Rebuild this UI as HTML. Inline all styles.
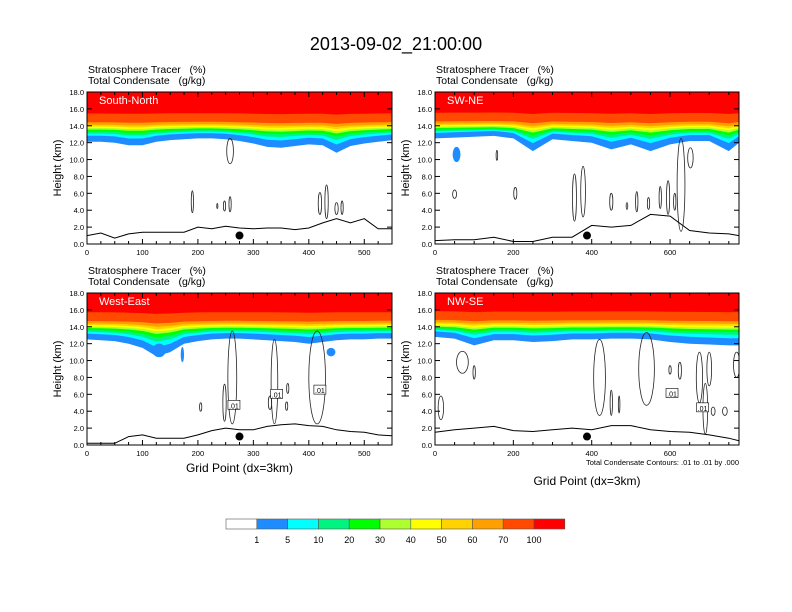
<!DOCTYPE html>
<html><head><meta charset="utf-8">
<style>
body{margin:0;background:#fff;}
svg{display:block;font-family:"Liberation Sans",sans-serif;}
</style></head>
<body>
<svg id="chart" width="792" height="612" viewBox="0 0 792 612" xmlns="http://www.w3.org/2000/svg">
<text x="396" y="50" font-size="18" text-anchor="middle">2013-09-02_21:00:00</text>
<g id="panels"></g>
<g id="cbar"></g>
</svg>
<script>
// ---- data ----
const levels = [1,5,10,20,30,40,50,60,70,100];
const levelOffsets = [0,0.75,1.05,1.3,1.55,1.75,1.95,2.15,2.45,3.5];
const levelDip = [1,0.8,0.6,0.45,0.35,0.3,0.25,0.2,0.15,0.1];
const levelColors = ["#ffffff","#1e8cff","#00ffff","#00f580","#00ff00","#adff2f","#ffff00","#ffd200","#ffa000","#ff4a00","#ff0000"];
const yTicks = [0,2,4,6,8,10,12,14,16,18];
const yTickLabels = ["0.0","2.0","4.0","6.0","8.0","10.0","12.0","14.0","16.0","18.0"];

const snTropo = [12.1,12.1,12.0,11.7,11.7,12.1,12.3,12.4,12.5,12.5,12.4,12.2,11.9,11.5,11.4,11.6,11.8,11.7,10.8,11.6,11.9,12.1,12.3];
const snTerrain = [1.0,1.3,0.7,1.2,1.4,1.4,1.4,1.4,2.0,1.8,2.1,1.9,1.8,1.9,1.9,1.7,1.9,2.5,3.0,2.5,3.0,1.8,1.8];
const snCloud = [[258,11,6,1.5],[190,5,2,1.3],[235,4.5,1,0.3],[248,4.5,2,0.6],[258,4.7,2,0.9],[420,4.8,3,1.3],[432,5,3,2],[450,4.2,3,0.7],[460,4.3,2,0.8]];

const swTropo = [12.5,12.6,12.7,12.8,12.5,11.0,12.4,12.2,12.0,11.2,11.8,11.0,11.8,12.2,12.2,11.0,12.0];
const swTerrain = [0.4,0.5,0.5,0.8,0.3,0.3,0.8,0.8,2.2,2.0,2.2,3.5,3.3,1.6,1.3,1.2,1.0];
const swCloud = [[158,10.5,2,0.6],[50,5.9,5,0.5],[205,6,4,0.7],[356,5.5,5,2.8],[378,6.2,6,3],[450,5,4,1],[490,4.5,2,0.4],[515,5,3,1.2],[545,4.8,3,0.7],[575,5.5,3,1.3],[595,5.5,4,2],[612,5,3,1],[628,7,10,5.5],[652,10.2,7,1.2]];
const swBlobs = [[55,10.6,10,0.9]];

const weTropo = [12.5,12.4,12.3,12.0,11.5,10.5,11.0,12.0,12.3,12.5,12.6,12.6,12.5,12.4,12.3,12.2,12.0,12.2,12.4,12.5,12.5,12.6,12.6];
const weTerrain = [0.2,0.2,0.2,1.0,1.2,0.8,0.8,0.8,1.2,1.7,2.0,1.8,1.8,2.2,2.4,2.5,2.3,2.2,1.8,1.6,1.5,1.2,1.1];
const weCloud = [[262,8,8,5.5],[338,7.5,6,5],[415,8,15,5.5],[248,5,3,2.2],[205,4.5,2,0.5],[330,5,3,0.8],[362,6.7,2,0.6],[360,4.6,2,0.5]];
const weBlobs = [[130,11.2,12,0.8],[172,10.7,3,0.9],[440,11,8,0.5]];
const weLabels = [[265,4.7],[342,6],[420,6.5]];

const nwTropo = [12.8,12.6,11.8,12.4,12.4,12.2,12.3,12.5,12.5,12.6,12.6,12.5,12.2,12.0,11.9,11.8,11.8];
const nwTerrain = [1.5,1.8,2.0,2.2,1.7,1.6,1.8,2.0,1.8,2.3,2.3,1.8,1.6,1.5,1.2,0.8,0.5];
const nwCloud = [[420,8,15,4.5],[540,9,20,4.3],[70,9.8,15,1.3],[100,8.6,3,0.8],[15,4.4,7,1.4],[450,5,3,1.5],[470,4.8,2,1],[675,8,8,3],[690,4.3,6,3],[700,9,6,2],[600,8.9,3,0.5],[625,8.8,4,1],[710,4,5,0.5],[740,4,6,0.5],[770,9.5,8,1.5]];
const nwLabels = [[605,6.1],[683,4.4]];

const leftXTicks = [0,100,200,300,400,500];
const rightXTicks = [0,200,400,600];

const panels = [
 {name:"south-north",label:"South-North",x0:87,y0:92,w:305,h:152,xmax:550,step:25,tropo:snTropo,terrain:snTerrain,cloud:snCloud,blobs:[],labels:[],dot:[275,1.0],ticks:leftXTicks,minor:25,xl:false},
 {name:"sw-ne",label:"SW-NE",x0:435,y0:92,w:304,h:152,xmax:776,step:50,tropo:swTropo,terrain:swTerrain,cloud:swCloud,blobs:swBlobs,labels:[],dot:[388,1.0],ticks:rightXTicks,minor:50,xl:false},
 {name:"west-east",label:"West-East",x0:87,y0:293,w:305,h:152,xmax:550,step:25,tropo:weTropo,terrain:weTerrain,cloud:weCloud,blobs:weBlobs,labels:weLabels,dot:[275,1.0],ticks:leftXTicks,minor:25,xl:true,xly:472},
 {name:"nw-se",label:"NW-SE",x0:435,y0:293,w:304,h:152,xmax:776,step:50,tropo:nwTropo,terrain:nwTerrain,cloud:nwCloud,blobs:[],labels:nwLabels,dot:[388,1.0],ticks:rightXTicks,minor:50,xl:true,xly:485,note:true}
];

const NS="http://www.w3.org/2000/svg";
function mk(tag,attrs,parent){const e=document.createElementNS(NS,tag);for(const k in attrs)e.setAttribute(k,attrs[k]);if(parent)parent.appendChild(e);return e;}
const root=document.getElementById('panels');

panels.forEach((p,pi)=>{
  const xs=v=>p.x0+v/p.xmax*p.w;
  const ys=v=>p.y0+p.h-v/18*p.h;
  const g=mk('g',{},root);
  
  
  const t1=mk('text',{x:p.x0+1,y:p.y0-19,'font-size':10.5,'xml:space':'preserve'},g);t1.textContent="Stratosphere Tracer\u00a0\u00a0\u00a0(%)";
  
  
  const t2=mk('text',{x:p.x0+1,y:p.y0-8,'font-size':10.5},g);t2.textContent="Total Condensate\u00a0\u00a0\u00a0(g/kg)";
  
  
  const cid='clip'+pi;
  const cp=mk('clipPath',{id:cid},g);mk('rect',{x:p.x0,y:p.y0,width:p.w,height:p.h},cp);
  const pg=mk('g',{'clip-path':'url(#'+cid+')'},g);
  mk('rect',{x:p.x0,y:p.y0,width:p.w,height:p.h,fill:'#fff'},pg);
  const xv=i=>Math.min(i*p.step,p.xmax);
  const mean=p.tropo.reduce((a,b)=>a+b,0)/p.tropo.length;
  levels.forEach((lv,li)=>{
    let d='M'+xs(0)+','+ys(18);
    p.tropo.forEach((h,i)=>{
      const hh=mean+(h-mean)*levelDip[li]+levelOffsets[li];
      d+=' L'+xs(xv(i)).toFixed(1)+','+ys(hh).toFixed(1);
    });
    d+=' L'+xs(p.xmax)+','+ys(18)+' Z';
    const band=mk('path',{d:d,fill:levelColors[li+1]},pg);
    
    
  });
  p.blobs.forEach(b=>{
    const e=mk('ellipse',{cx:xs(b[0]),cy:ys(b[1]),rx:b[2]/p.xmax*p.w,ry:b[3]/18*p.h,fill:levelColors[1]},pg);
    
    
  });
  p.cloud.forEach(c=>{
    const e=mk('ellipse',{cx:xs(c[0]),cy:ys(c[1]),rx:c[2]/p.xmax*p.w,ry:c[3]/18*p.h,fill:'none',stroke:'#222','stroke-width':0.8},pg);
    
    
  });
  p.labels.forEach(l=>{
    const lg=mk('g',{},pg);
    
    
    mk('rect',{x:xs(l[0])-6,y:ys(l[1])-5,width:12,height:9,fill:'#fff',stroke:'#000','stroke-width':0.6},lg);
    const tt=mk('text',{x:xs(l[0]),y:ys(l[1])+3,'font-size':7,'text-anchor':'middle'},lg);tt.textContent='.01';
  });
  let td='';
  p.terrain.forEach((h,i)=>{td+=(i?' L':'M')+xs(xv(i)).toFixed(1)+','+ys(h).toFixed(1);});
  const tl=mk('path',{d:td,fill:'none',stroke:'#000','stroke-width':1},pg);
  
  
  const dot=mk('circle',{cx:xs(p.dot[0]),cy:ys(p.dot[1]),r:4,fill:'#000'},pg);
  
  
  const lb=mk('text',{x:p.x0+12,y:p.y0+12,'font-size':11,fill:'#fff'},g);lb.textContent=p.label;
  
  
  mk('rect',{x:p.x0,y:p.y0,width:p.w,height:p.h,fill:'none',stroke:'#000','stroke-width':1},g);
  yTicks.forEach((v,i)=>{
    const y=ys(v);
    mk('line',{x1:p.x0,x2:p.x0+5,y1:y,y2:y,stroke:'#000'},g);
    mk('line',{x1:p.x0+p.w,x2:p.x0+p.w-5,y1:y,y2:y,stroke:'#000'},g);
    const tx=mk('text',{x:p.x0-3,y:y+3,'font-size':7.5,'text-anchor':'end'},g);tx.textContent=yTickLabels[i];
    
    
  });
  for(let v=0;v<=p.xmax;v+=p.minor){
    const x=xs(v);const major=p.ticks.indexOf(v)>=0;
    mk('line',{x1:x,x2:x,y1:p.y0+p.h,y2:p.y0+p.h-(major?5:3),stroke:'#000'},g);
    mk('line',{x1:x,x2:x,y1:p.y0,y2:p.y0+(major?5:3),stroke:'#000'},g);
  }
  p.ticks.forEach(v=>{
    const tx=mk('text',{x:xs(v),y:p.y0+p.h+11,'font-size':7.5,'text-anchor':'middle'},g);tx.textContent=v;
    
    
  });
  const yl=mk('text',{x:0,y:0,'font-size':11,'text-anchor':'middle',transform:'translate('+(p.x0-26)+','+(p.y0+p.h/2)+') rotate(-90)'},g);yl.textContent='Height (km)';
  
  
  if(p.xl){
    const xt=mk('text',{x:p.x0+p.w/2,y:p.xly,'font-size':12,'text-anchor':'middle'},g);xt.textContent='Grid Point (dx=3km)';
    
    
  }
  if(p.note){
    const nt=mk('text',{x:p.x0+p.w,y:p.y0+p.h+20,'font-size':7.5,'text-anchor':'end'},g);nt.textContent='Total Condensate Contours: .01 to .01 by .000';
    
    
  }
});

const cb=document.getElementById('cbar');
const cbx=226,cby=519,cbw=30.8,cbh=10;
levelColors.forEach((c,i)=>{
  const r=mk('rect',{x:cbx+i*cbw,y:cby,width:cbw,height:cbh,fill:c,stroke:'#555','stroke-width':0.6},cb);
  
  
});
levels.forEach((v,i)=>{
  const t=mk('text',{x:cbx+(i+1)*cbw,y:cby+24,'font-size':9,'text-anchor':'middle'},cb);t.textContent=v;
  
  
});
</script>
</body></html>
